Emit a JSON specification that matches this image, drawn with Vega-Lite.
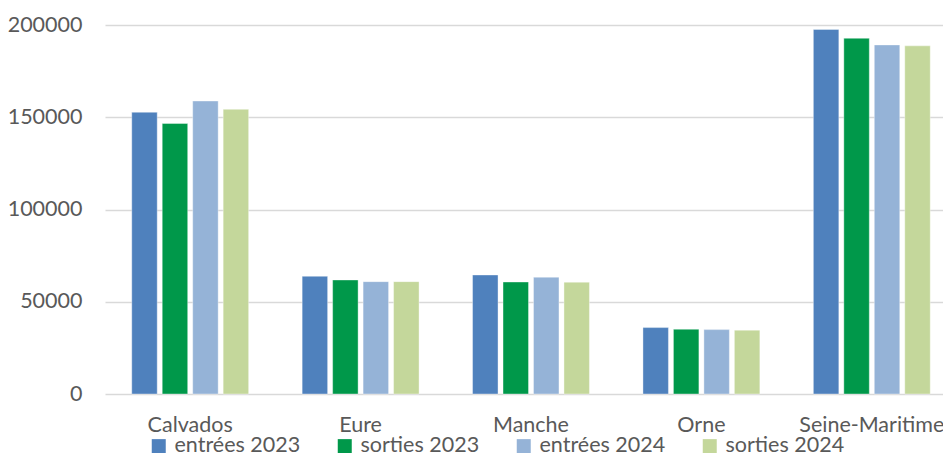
{
  "$schema": "https://vega.github.io/schema/vega-lite/v6.json",
  "width": 838,
  "height": 369,
  "autosize": {"type": "none"},
  "padding": {"left": 105, "top": 25, "right": 0, "bottom": 59},
  "background": "white",
  "data": {
    "values": [
      {"dept": "Calvados", "serie": "entrées 2023", "value": 152700},
      {"dept": "Calvados", "serie": "sorties 2023", "value": 146600},
      {"dept": "Calvados", "serie": "entrées 2024", "value": 158800},
      {"dept": "Calvados", "serie": "sorties 2024", "value": 154300},
      {"dept": "Eure", "serie": "entrées 2023", "value": 63800},
      {"dept": "Eure", "serie": "sorties 2023", "value": 61800},
      {"dept": "Eure", "serie": "entrées 2024", "value": 60900},
      {"dept": "Eure", "serie": "sorties 2024", "value": 60900},
      {"dept": "Manche", "serie": "entrées 2023", "value": 64500},
      {"dept": "Manche", "serie": "sorties 2023", "value": 60700},
      {"dept": "Manche", "serie": "entrées 2024", "value": 63300},
      {"dept": "Manche", "serie": "sorties 2024", "value": 60600},
      {"dept": "Orne", "serie": "entrées 2023", "value": 36000},
      {"dept": "Orne", "serie": "sorties 2023", "value": 35100},
      {"dept": "Orne", "serie": "entrées 2024", "value": 34900},
      {"dept": "Orne", "serie": "sorties 2024", "value": 34600},
      {"dept": "Seine-Maritime", "serie": "entrées 2023", "value": 197600},
      {"dept": "Seine-Maritime", "serie": "sorties 2023", "value": 192800},
      {"dept": "Seine-Maritime", "serie": "entrées 2024", "value": 189200},
      {"dept": "Seine-Maritime", "serie": "sorties 2024", "value": 188700}
    ]
  },
  "mark": {"type": "bar", "stroke": "white", "strokeWidth": 0.75, "strokeOpacity": 0.5},
  "encoding": {
    "x": {
      "field": "dept",
      "type": "nominal",
      "sort": ["Calvados", "Eure", "Manche", "Orne", "Seine-Maritime"],
      "scale": {"range": [0, 852], "paddingInner": 0.314, "paddingOuter": 0.157},
      "axis": {
        "title": null,
        "domain": false,
        "ticks": false,
        "tickSize": 0,
        "labelAngle": 0,
        "labelPadding": 20,
        "labelFont": "Lato",
        "labelFontSize": 21.5,
        "labelColor": "#595959",
        "labelOverlap": false,
        "labelBound": false,
        "labelFlush": false
      }
    },
    "xOffset": {
      "field": "serie",
      "type": "nominal",
      "sort": ["entrées 2023", "sorties 2023", "entrées 2024", "sorties 2024"],
      "scale": {"paddingInner": 0.164, "paddingOuter": 0}
    },
    "y": {
      "field": "value",
      "type": "quantitative",
      "scale": {"domain": [0, 200000], "nice": false},
      "axis": {
        "title": null,
        "domain": false,
        "ticks": false,
        "tickSize": 0,
        "values": [0, 50000, 100000, 150000, 200000],
        "format": "d",
        "labelPadding": 23,
        "labelFont": "Lato",
        "labelFontSize": 21.5,
        "labelColor": "#595959",
        "grid": true,
        "gridColor": "#d9d9d9",
        "gridWidth": 1.3
      }
    },
    "color": {
      "field": "serie",
      "type": "nominal",
      "sort": ["entrées 2023", "sorties 2023", "entrées 2024", "sorties 2024"],
      "scale": {
        "domain": ["entrées 2023", "sorties 2023", "entrées 2024", "sorties 2024"],
        "range": ["#4F81BD", "#00984A", "#95B3D7", "#C4D79B"]
      },
      "legend": {
        "title": null,
        "orient": "none",
        "direction": "horizontal",
        "legendX": 43,
        "legendY": 410,
        "padding": 0,
        "symbolType": "square",
        "symbolSize": 196,
        "symbolStrokeWidth": 0,
        "labelOffset": 5,
        "columnPadding": 33,
        "labelFont": "Lato",
        "labelFontSize": 21.5,
        "labelColor": "#595959",
        "labelLimit": 300
      }
    }
  },
  "config": {"view": {"stroke": null}}
}
